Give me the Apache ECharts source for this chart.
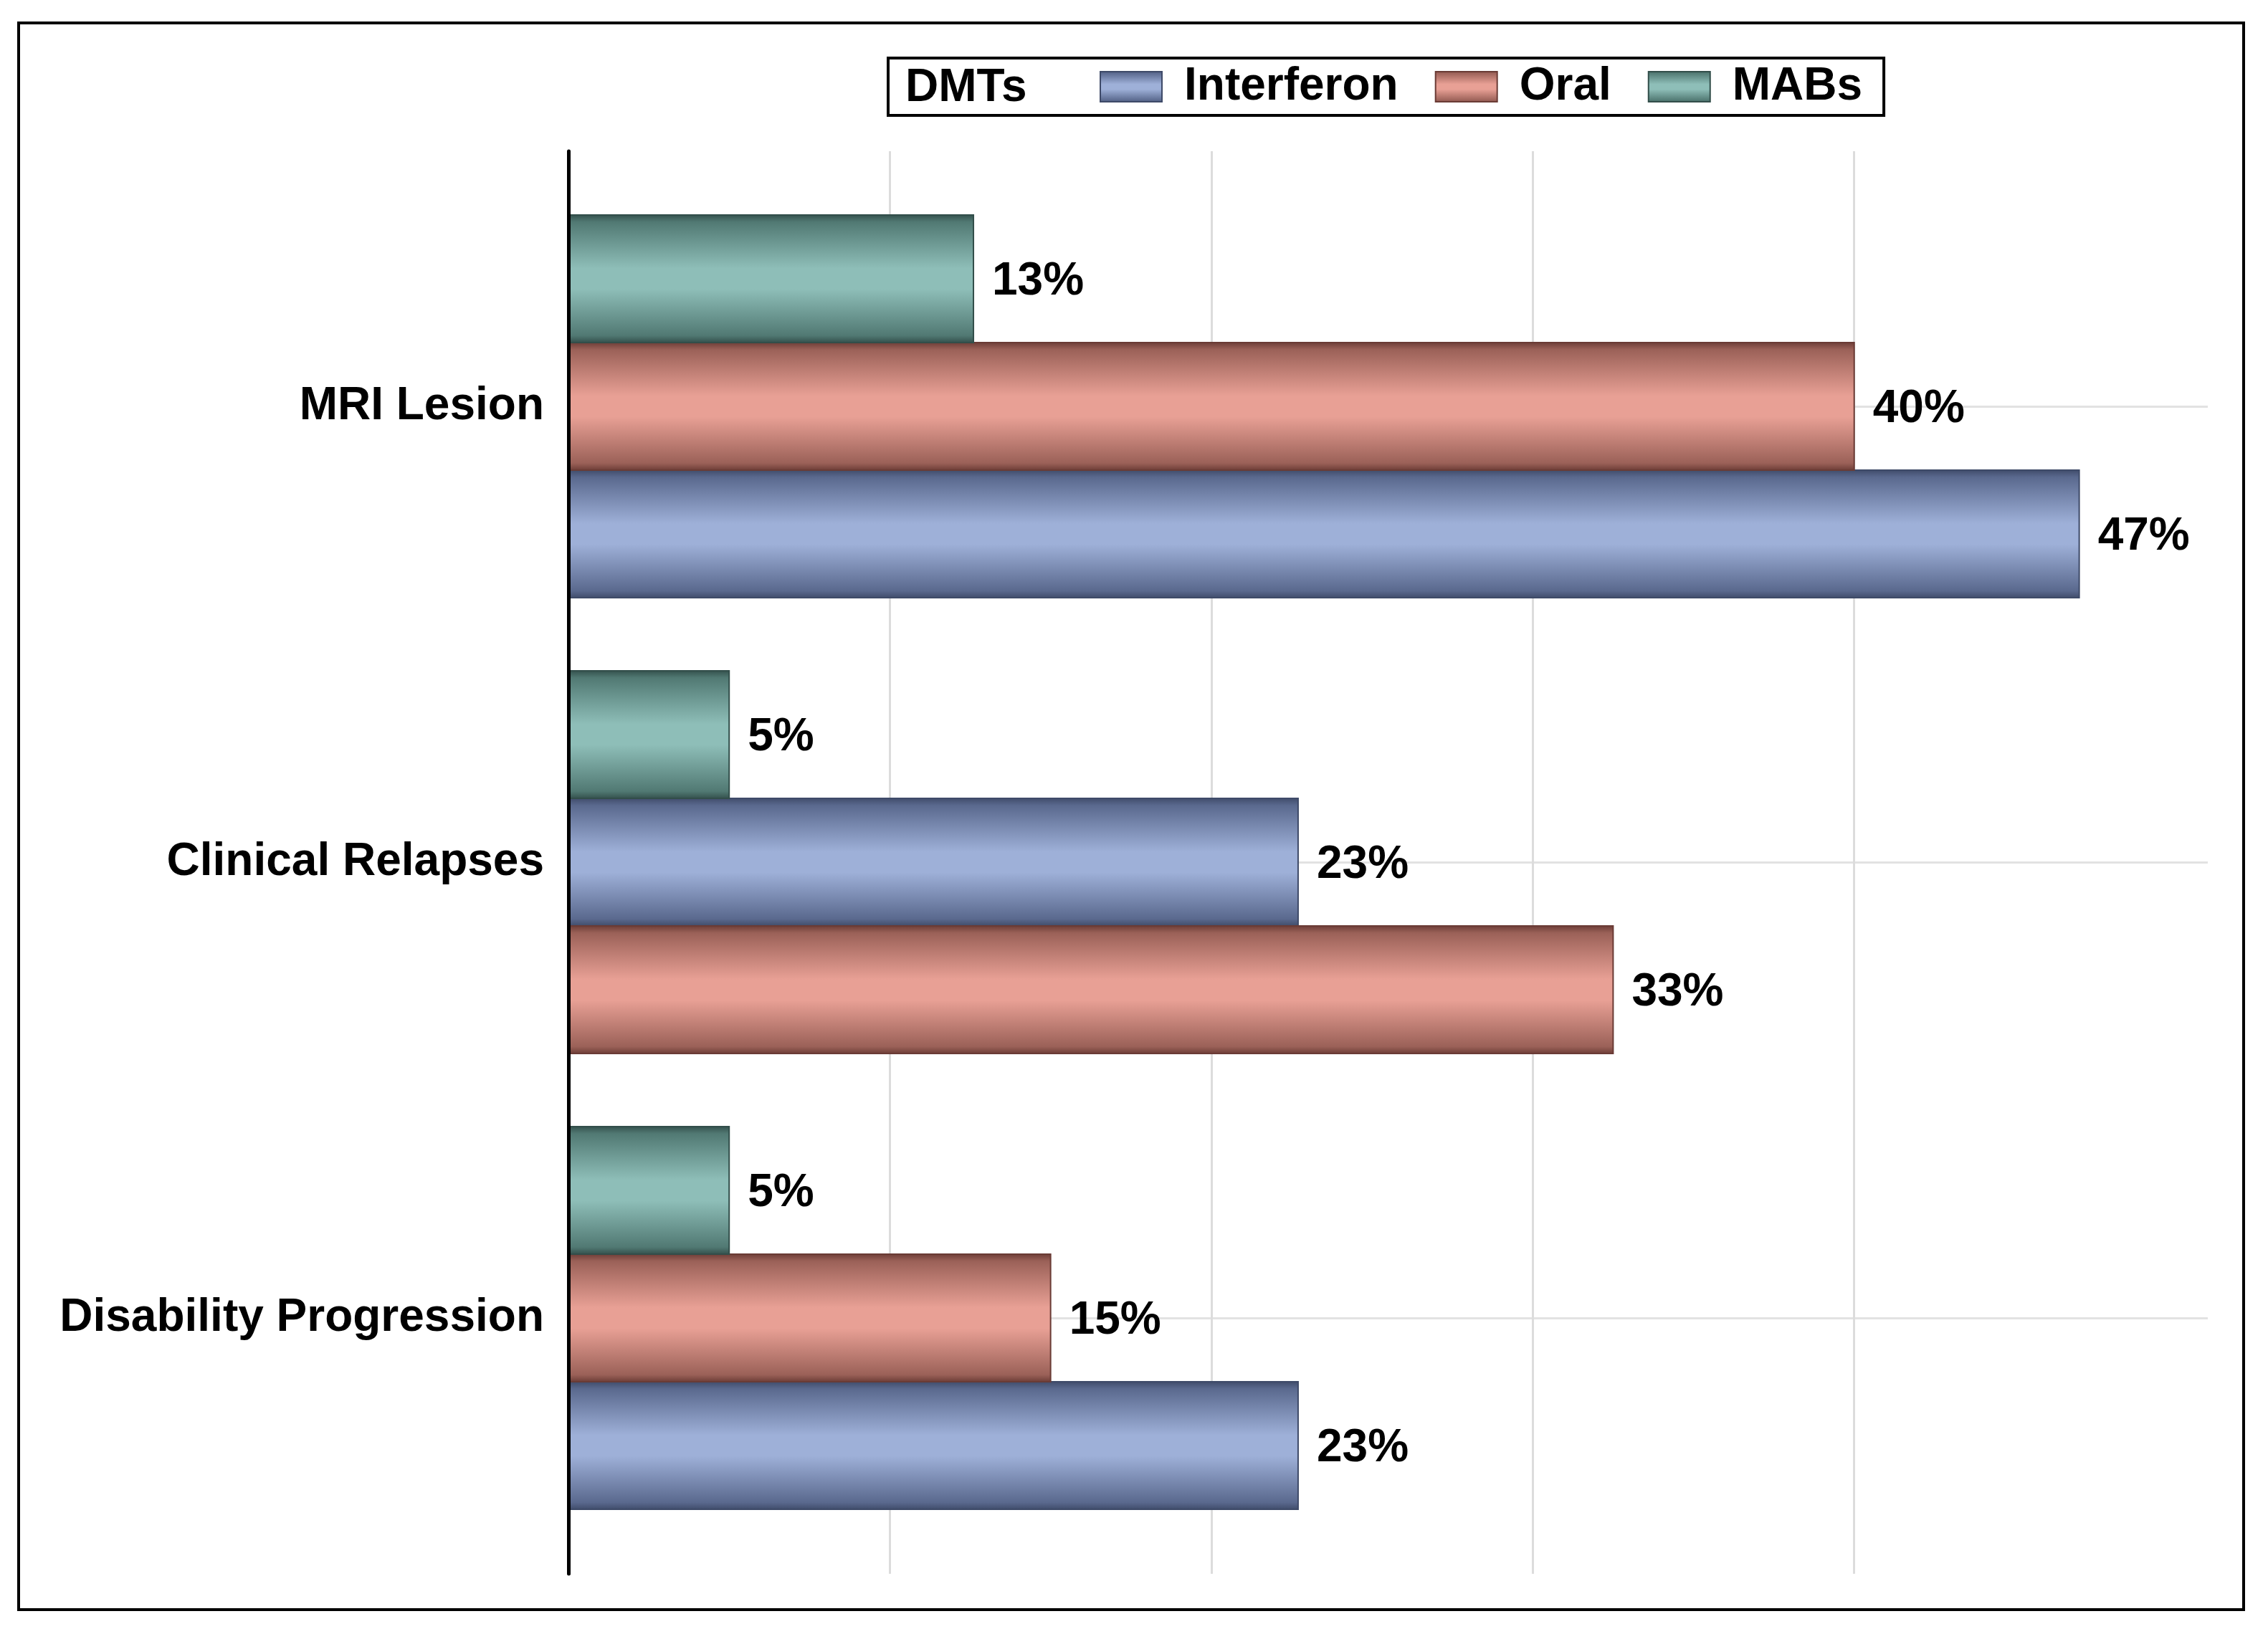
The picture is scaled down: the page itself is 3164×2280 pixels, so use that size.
<!DOCTYPE html>
<html><head><meta charset="utf-8">
<script src="https://cdn.jsdelivr.net/npm/echarts@6/dist/echarts.min.js"></script>
<style>html,body{margin:0;padding:0;background:#fff}#c{width:3164px;height:2280px}</style>
</head><body><div id="c"></div>
<script>
const categories = ['MRI Lesion', 'Clinical Relapses', 'Disability Progression'];
const seriesNames = ['Interferon', 'Oral', 'MABs'];
const interferon = [47, 22.7, 22.7];
const oral = [40, 32.5, 15];
const mabs = [12.6, 5, 5];
const legendTitle = 'DMTs';

const values = [interferon, oral, mabs];
const palettes = [
  {dark: '#5a698e', light: '#9eb0d8', edge: '#3e4a68'},
  {dark: '#9b6158', light: '#e8a095', edge: '#6a3b35'},
  {dark: '#517973', light: '#8ebeb8', edge: '#324e4a'}
];
const FONT = '"Liberation Sans", Arial, sans-serif';

function grad(p) {
  return new echarts.graphic.LinearGradient(0, 0, 0, 1, [
    {offset: 0, color: p.edge},
    {offset: 0.06, color: p.dark},
    {offset: 0.42, color: p.light},
    {offset: 0.58, color: p.light},
    {offset: 0.94, color: p.dark},
    {offset: 1, color: p.edge}
  ]);
}
// rank of a series within a category: smallest value on top
function rankOf(sIdx, ci) {
  const order = [0, 1, 2].sort((a, b) => values[a][ci] - values[b][ci]);
  return order.indexOf(sIdx);
}
function makeRender(sIdx) {
  const p = palettes[sIdx];
  return function (params, api) {
    const ci = api.value(1), v = api.value(0);
    const end = api.coord([v, ci]);
    const start = api.coord([0, ci]);
    const band = api.size([0, 1])[1];
    const h = band * 0.28;
    const r = rankOf(sIdx, ci);
    const y = end[1] + (r - 1.5) * h;
    return {type: 'group', children: [
      {type: 'rect', shape: {x: start[0], y: y, width: end[0] - start[0], height: h},
       style: {fill: grad(p), stroke: p.edge, lineWidth: 2}},
      {type: 'text', style: {text: Math.round(v) + '%', x: end[0] + 26, y: y + h / 2 + 4,
       verticalAlign: 'middle', align: 'left', font: 'bold 64px ' + FONT, fill: '#000'}}
    ]};
  };
}

const chart = echarts.init(document.getElementById('c'), null, {renderer: 'canvas'});
chart.setOption({
  backgroundColor: '#fff',
  animation: false,
  textStyle: {fontFamily: FONT},
  graphic: [
    {type: 'rect', shape: {x: 26, y: 32, width: 3104, height: 2214}, style: {fill: 'none', stroke: '#000', lineWidth: 4}, z: 100},
    {type: 'text', left: 1263, top: 91, style: {text: legendTitle, font: 'bold 64px ' + FONT, fill: '#000'}, z: 100}
  ],
  legend: {
    data: seriesNames, left: 1239, top: 81, orient: 'horizontal',
    padding: [8, 30, 8, 295], itemWidth: 86, itemHeight: 42, itemGap: 51, icon: 'rect',
    borderColor: '#000', borderWidth: 4, selectedMode: false,
    textStyle: {fontSize: 64, fontWeight: 'bold', color: '#000', fontFamily: FONT, padding: [0, 0, 0, 26]}
  },
  grid: [
    {left: 793, right: 84, top: 567, bottom: 441},
    {left: 793, right: 84, top: 211, bottom: 84}
  ],
  xAxis: [
    {gridIndex: 0, type: 'value', min: 0, max: 51, show: false},
    {gridIndex: 1, type: 'value', min: 0, max: 51, interval: 10,
     axisLine: {show: false}, axisTick: {show: false}, axisLabel: {show: false},
     splitLine: {show: true, showMinLine: false, showMaxLine: false,
       lineStyle: {color: ['#dcdcdc', '#dcdcdc', '#dcdcdc', '#dcdcdc', 'rgba(0,0,0,0)'], width: 3}}}
  ],
  yAxis: [
    {gridIndex: 0, type: 'category', data: categories, inverse: true, boundaryGap: false,
     axisLine: {show: false}, axisTick: {show: false},
     axisLabel: {interval: 0, margin: 34, fontSize: 64, fontWeight: 'bold', color: '#000', fontFamily: FONT, padding: [14, 0, 0, 0]},
     splitLine: {show: true, interval: 0, lineStyle: {color: '#e2e2e2', width: 3}}},
    {gridIndex: 1, type: 'value', min: 0, max: 1, z: 10,
     axisLine: {show: true, lineStyle: {color: '#000', width: 5}},
     axisTick: {show: false}, axisLabel: {show: false}, splitLine: {show: false}}
  ],
  series: seriesNames.map((name, s) => ({
    name: name, type: 'custom', xAxisIndex: 0, yAxisIndex: 0, clip: false,
    itemStyle: {color: grad(palettes[s]), borderColor: palettes[s].edge, borderWidth: 3},
    encode: {x: 0, y: 1},
    renderItem: makeRender(s),
    data: values[s].map((v, i) => [v, i])
  }))
});
</script></body></html>
